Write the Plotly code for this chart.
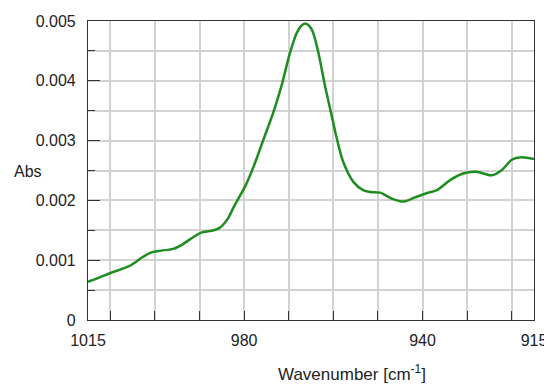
import plotly.graph_objects as go

wavenumber = [1015.0, 1012.8, 1009.8, 1007.5, 1005.3, 1003.0, 1000.8, 998.6, 995.9, 993.7,
              991.5, 989.6, 987.4, 985.5, 983.6, 982.4, 979.6, 977.9, 975.7, 973.5,
              971.6, 969.7, 968.2, 967.2, 966.3, 965.4, 964.6, 963.4, 961.9, 960.4, 959.2, 957.8,
              955.5, 953.3, 951.8, 949.5, 946.9, 944.3, 941.7, 939.1, 936.8, 933.8,
              930.9, 927.9, 924.5, 922.2, 920.0, 917.8, 915.0]
absorbance = [0.00064, 0.00070, 0.00079, 0.00085, 0.00092, 0.00104, 0.00113, 0.00116, 0.00119, 0.00127,
              0.00138, 0.00146, 0.00149, 0.00154, 0.00170, 0.00188, 0.00226, 0.00256, 0.00301, 0.00346,
              0.00392, 0.00447, 0.00480, 0.00492, 0.00496, 0.00492, 0.00482, 0.00449, 0.00393, 0.00343, 0.00303, 0.00265,
              0.00231, 0.00217, 0.00214, 0.00213, 0.00203, 0.00198, 0.00205, 0.00212, 0.00217, 0.00234,
              0.00245, 0.00248, 0.00242, 0.00251, 0.00268, 0.00272, 0.00269]

x_ticklabels = [1015, 980, 940, 915]
x_gridvals = [1010, 1000, 990, 980, 970, 960, 950, 940, 930, 920]
y_ticklabels = [0, 0.001, 0.002, 0.003, 0.004, 0.005]
y_ticktext = ["0", "0.001", "0.002", "0.003", "0.004", "0.005"]

font = "Liberation Sans, Arial, sans-serif"
grid = "#d2d2d2"
axis_col = "#333333"

# the page body has an 8px margin, so the figure is drawn 8px in from the top-left
OFF = 8
W, H = 552 - OFF, 385 - OFF
L, R, T, B = 88 - OFF, 18, 21 - OFF, 65
plot_w = W - L - R
plot_h = H - T - B

fig = go.Figure()
fig.add_trace(go.Scatter(x=wavenumber, y=absorbance, mode="lines",
                         line=dict(color="#1e8c1e", width=2.5, shape="spline", smoothing=0.8),
                         hoverinfo="skip"))

fig.update_layout(
    width=W, height=H,
    margin=dict(l=L, r=R, t=T, b=B, autoexpand=False),
    paper_bgcolor="white", plot_bgcolor="white",
    showlegend=False,
    font=dict(family=font, size=16, color="#222222"),
    xaxis=dict(
        range=[1015, 915], autorange=False, automargin=False,
        tickmode="array", tickvals=x_ticklabels, ticktext=[str(v) for v in x_ticklabels],
        ticks="", showgrid=False, zeroline=False,
        showline=True, linecolor=axis_col, linewidth=1.2, mirror=True,
        ticklabelstandoff=6,
        minor=dict(tickmode="array", tickvals=x_gridvals, ticks="inside", ticklen=9,
                   tickcolor=axis_col, tickwidth=1, showgrid=True, gridcolor=grid, gridwidth=1.5),
    ),
    yaxis=dict(
        range=[0, 0.005], autorange=False, automargin=False,
        tickmode="array", tickvals=y_ticklabels, ticktext=y_ticktext,
        ticks="inside", ticklen=12, tickcolor=axis_col, tickwidth=1,
        showgrid=True, gridcolor=grid, gridwidth=1.5, zeroline=False,
        showline=True, linecolor=axis_col, linewidth=1.2, mirror=True,
        ticklabelstandoff=8,
        minor=dict(dtick=0.0005, tick0=0, ticks="inside", ticklen=7, tickcolor=axis_col,
                   tickwidth=1, showgrid=True, gridcolor=grid, gridwidth=1.5),
    ),
    annotations=[
        dict(text="Abs", x=(12 - 88) / plot_w, y=(320 - 171) / plot_h,
             xref="paper", yref="paper",
             showarrow=False, xanchor="left", yanchor="middle",
             font=dict(size=16, family=font, color="#222222")),
        dict(text="Wavenumber [cm<sup>-1</sup>]", x=(352 - 88) / plot_w, y=(320 - 373) / plot_h,
             xref="paper", yref="paper",
             showarrow=False, xanchor="center", yanchor="middle",
             font=dict(size=17, family=font, color="#222222")),
    ],
)

fig.write_html("out.html")
